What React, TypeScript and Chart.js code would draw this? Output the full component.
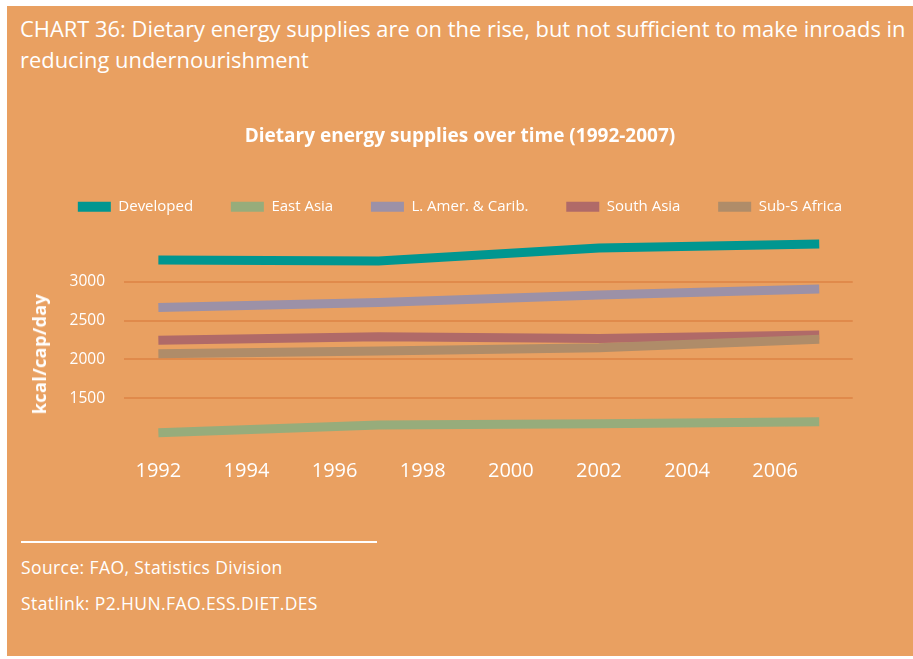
import React, { useEffect, useRef } from 'react';
import { Chart, registerables } from 'chart.js';

Chart.register(...registerables);

// ---- data ----
const years = [1992, 1997, 2002, 2007];
const developed = [3280, 3265, 3435, 3485];
const eastAsia = [1056, 1155, 1170, 1198];
const latinAmerica = [2668, 2733, 2830, 2906];
const southAsia = [2245, 2292, 2270, 2314];
const subSaharanAfrica = [2072, 2107, 2150, 2258];
const seriesNames = ['Developed', 'East Asia', 'L. Amer. & Carib.', 'South Asia', 'Sub-S Africa'];
const seriesColors = ['#009690', '#97AC7B', '#9C91A7', '#B06A68', '#AF8C69'];
const yTickValues = [1500, 2000, 2500, 3000];
const xTickValues = [1992, 1994, 1996, 1998, 2000, 2002, 2004, 2006];

const FONT = '"Open Sans", sans-serif';
const BG = '#E9A061';

export default function App() {
  const canvasRef = useRef<HTMLCanvasElement | null>(null);

  useEffect(() => {
    const canvas = canvasRef.current;
    if (!canvas) return;
    const seriesValues = [developed, eastAsia, latinAmerica, southAsia, subSaharanAfrica];
    const drawOrder = [5, 4, 3, 2, 1];
    const defaultLabels = (Chart.defaults as any).plugins.legend.labels.generateLabels;
    const chart = new Chart(canvas, {
      type: 'line',
      data: {
        datasets: seriesNames.map((name, i) => ({
          label: name,
          data: years.map((yr, j) => ({ x: yr, y: seriesValues[i][j] })),
          borderColor: seriesColors[i],
          backgroundColor: seriesColors[i],
          borderWidth: 9,
          borderCapStyle: 'butt' as const,
          pointRadius: 0,
          tension: 0,
          fill: false,
          order: drawOrder[i],
        })),
      },
      options: {
        responsive: false,
        animation: false,
        layout: { padding: { left: 0, right: 0, top: 0, bottom: 7 } },
        plugins: {
          tooltip: { enabled: false },
          title: {
            display: true,
            text: 'Dietary energy supplies over time (1992-2007)',
            color: '#ffffff',
            font: { family: FONT, size: 19, weight: 'bold' },
            padding: { top: 15, bottom: 13.75 },
          },
          legend: {
            display: true,
            labels: {
              color: '#ffffff',
              boxWidth: 33,
              boxHeight: 10,
              padding: 37.75,
              font: { family: FONT, size: 15 },
              sort: (a: any, b: any) => a.datasetIndex - b.datasetIndex,
              generateLabels: (c: any) =>
                defaultLabels(c).map((item: any) => ({ ...item, lineWidth: 0, strokeStyle: 'rgba(0,0,0,0)' })),
            },
          },
        },
        scales: {
          x: {
            type: 'linear',
            min: 1991.22,
            max: 2007.76,
            afterBuildTicks: (scale: any) => {
              scale.ticks = xTickValues.map((v) => ({ value: v }));
            },
            afterFit: (scale: any) => {
              scale.height = 38;
            },
            grid: { display: false, drawTicks: false },
            border: { display: false },
            ticks: {
              color: '#ffffff',
              padding: 14,
              font: { family: FONT, size: 20 },
              maxRotation: 0,
              autoSkip: false,
              callback: (v: any) => String(v),
            },
          },
          y: {
            type: 'linear',
            position: 'left',
            min: 897,
            max: 3739,
            afterBuildTicks: (scale: any) => {
              scale.ticks = yTickValues.map((v) => ({ value: v }));
            },
            afterFit: (scale: any) => {
              scale.width = 117;
            },
            grid: { color: '#E08A4B', lineWidth: 2, drawTicks: false },
            border: { display: false },
            ticks: {
              color: '#ffffff',
              padding: 19,
              font: { family: FONT, size: 15.5 },
              callback: (v: any) => String(v),
            },
          },
          y2: {
            type: 'linear',
            position: 'right',
            display: true,
            afterFit: (scale: any) => {
              scale.width = 60.3;
            },
            grid: { display: false, drawTicks: false },
            border: { display: false },
            ticks: { display: false },
          },
        },
      },
    });
    return () => chart.destroy();
  }, []);

  return (
    <div style={{ position: 'fixed', left: 0, top: 0, width: 913, height: 659, background: '#ffffff', overflow: 'hidden', fontFamily: FONT }}>
      <div style={{ position: 'absolute', left: 7, top: 6, width: 906, height: 650, background: BG }}>
        <div style={{ position: 'absolute', left: 13, top: 7, width: 900, color: '#fff', fontSize: 21.9, lineHeight: '31px', whiteSpace: 'nowrap' }}>
          CHART 36: Dietary energy supplies are on the rise, but not sufficient to make inroads in
          <br />
          reducing undernourishment
        </div>
        <canvas ref={canvasRef} width={906} height={380} style={{ position: 'absolute', left: 0, top: 104, width: 906, height: 380 }} />
        <div style={{ position: 'absolute', left: 32, top: 348, width: 0, height: 0 }}>
          <div style={{ position: 'absolute', left: 0, top: 0, transform: 'translate(-50%, -50%) rotate(-90deg)', whiteSpace: 'nowrap', color: '#fff', fontWeight: 'bold', fontSize: 18, letterSpacing: 0.4, lineHeight: '20px' }}>
            kcal/cap/day
          </div>
        </div>
        <div style={{ position: 'absolute', left: 14, top: 535, width: 356, height: 2, background: '#fff' }} />
        <div style={{ position: 'absolute', left: 14, top: 549, color: '#fff', fontSize: 17.5, letterSpacing: 0.4, lineHeight: '24px' }}>Source: FAO, Statistics Division</div>
        <div style={{ position: 'absolute', left: 14, top: 585, color: '#fff', fontSize: 17.5, letterSpacing: 0.4, lineHeight: '24px' }}>Statlink: P2.HUN.FAO.ESS.DIET.DES</div>
      </div>
    </div>
  );
}
